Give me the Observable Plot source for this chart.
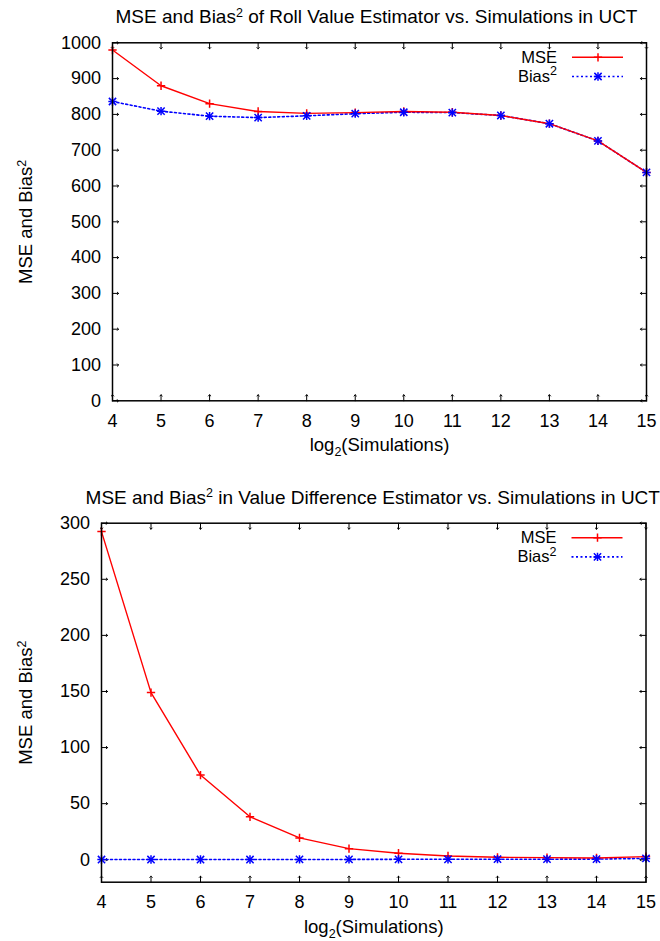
<!DOCTYPE html>
<html><head><meta charset="utf-8">
<script src="https://cdn.jsdelivr.net/npm/d3@7"></script>
<script src="https://cdn.jsdelivr.net/npm/@observablehq/plot@0.6"></script>
<style>
body{margin:0;background:#fff;}
#chart svg{display:block;}
</style></head><body><div id="chart"></div>
<script>
// ---- data ----
const sims = [4, 5, 6, 7, 8, 9, 10, 11, 12, 13, 14, 15];
const rollMSE  = [980, 880, 830, 808, 803, 805, 808, 806, 797, 774, 726, 638];
const rollBias = [836, 809, 795, 791, 796, 802, 806, 805, 797, 774, 726, 638];
const diffMSE  = [292.5, 149, 75.5, 38.3, 19.5, 9.9, 5.8, 3.4, 2.2, 1.9, 1.6, 2.8];
const diffBias = [0.2, 0.2, 0.2, 0.2, 0.3, 0.3, 0.4, 0.4, 0.5, 0.5, 0.6, 1.2];
const xTicks = [4, 5, 6, 7, 8, 9, 10, 11, 12, 13, 14, 15];
const rollYTicks = [0, 100, 200, 300, 400, 500, 600, 700, 800, 900, 1000];
const diffYTicks = [0, 50, 100, 150, 200, 250, 300];
const rollTitle = "MSE and Bias² of Roll Value Estimator vs. Simulations in UCT";
const diffTitle = "MSE and Bias² in Value Difference Estimator vs. Simulations in UCT";
const yLabel = "MSE and Bias²";
const xLabel = "log₂(Simulations)";
const seriesNames = ["MSE", "Bias²"];

const FONT = "'Liberation Sans', Arial, Helvetica, sans-serif";
const RED = "#ff0000", BLUE = "#0000ff";

function richify(svg) {
  svg.querySelectorAll("text").forEach(el => {
    const targets = el.querySelector("tspan") ? [...el.querySelectorAll("tspan")] : [el];
    targets.forEach(t => {
      const s = t.textContent;
      if (!/[²₂]/.test(s)) return;
      while (t.firstChild) t.removeChild(t.firstChild);
      const parts = s.split(/([²₂])/);
      let shift = 0;
      for (const p of parts) {
        if (!p) continue;
        const ts = document.createElementNS("http://www.w3.org/2000/svg", "tspan");
        if (p === "²" || p === "₂") {
          const d = p === "²" ? -6.5 : 5;
          ts.setAttribute("dy", d - shift); shift = d;
          ts.setAttribute("font-size", "12.5");
          ts.textContent = "2";
        } else {
          if (shift) { ts.setAttribute("dy", -shift); shift = 0; }
          ts.textContent = p;
        }
        t.appendChild(ts);
      }
    });
  });
}

function addLegend(svgNode, width, mr, mt) {
  const right = width - mr;
  const svg = d3.select(svgNode);
  const g = svg.append("g").attr("font-family", FONT).attr("font-size", 16.5);
  const entries = [
    {label: seriesNames[0], color: RED, dash: null, sw: 1.4, syms: [[d3.symbolPlus, 24.6]]},
    {label: seriesNames[1], color: BLUE, dash: "2,2.5", sw: 1.6, syms: [[d3.symbolPlus, 24.6], [d3.symbolTimes, 36.3]]}
  ];
  entries.forEach((s, i) => {
    const y = mt + 15 + i * 19.2;
    g.append("text").attr("x", right - 89).attr("y", y).attr("dy", "0.32em")
      .attr("text-anchor", "end").attr("fill", "black").text(s.label);
    const ln = g.append("line").attr("x1", right - 74).attr("x2", right - 23)
      .attr("y1", y).attr("y2", y).attr("stroke", s.color).attr("stroke-width", s.sw);
    if (s.dash) ln.attr("stroke-dasharray", s.dash);
    s.syms.forEach(([type, size]) => {
      g.append("path").attr("transform", `translate(${right - 48},${y})`)
        .attr("d", d3.symbol(type, size)()).attr("fill", "none")
        .attr("stroke", s.color).attr("stroke-width", 1.5);
    });
  });
}

function panel({title, mse, bias, yDomain, yTicks, height, mt, mb, ml, mr, titleDx}) {
  const width = 660;
  const mseData = sims.map((x, i) => ({x, y: mse[i]}));
  const biasData = sims.map((x, i) => ({x, y: bias[i]}));
  const tick = {stroke: "black", strokeWidth: 1, length: 6, anchor: "start"};
  const chart = Plot.plot({
    width, height,
    marginTop: mt, marginBottom: mb, marginLeft: ml, marginRight: mr,
    style: {fontFamily: FONT, fontSize: "18px", color: "#000", background: "#fff"},
    x: {domain: [4, 15]},
    y: {domain: yDomain},
    marks: [
      Plot.axisX({ticks: xTicks, tickSize: 0, tickPadding: 13, fontSize: 18, label: null, tickFormat: "d"}),
      Plot.axisY({ticks: yTicks, tickSize: 0, tickPadding: 11.5, fontSize: 18, label: null, tickFormat: "d"}),
      Plot.vector(xTicks, {x: d => d, frameAnchor: "bottom", rotate: 0, ...tick}),
      Plot.vector(xTicks, {x: d => d, frameAnchor: "top", rotate: 180, ...tick}),
      Plot.vector(yTicks, {y: d => d, frameAnchor: "left", rotate: 90, ...tick}),
      Plot.vector(yTicks, {y: d => d, frameAnchor: "right", rotate: -90, ...tick}),
      Plot.line(biasData, {x: "x", y: "y", stroke: BLUE, strokeWidth: 1.6, strokeDasharray: "2,2.5"}),
      Plot.line(mseData, {x: "x", y: "y", stroke: RED, strokeWidth: 1.4}),
      Plot.dot(mseData, {x: "x", y: "y", symbol: "plus", r: 2.8, stroke: RED, fill: "none", strokeWidth: 1.5}),
      Plot.dot(biasData, {x: "x", y: "y", symbol: "plus", r: 2.8, stroke: BLUE, fill: "none", strokeWidth: 1.5}),
      Plot.dot(biasData, {x: "x", y: "y", symbol: "times", r: 3.4, stroke: BLUE, fill: "none", strokeWidth: 1.5}),
      Plot.frame({stroke: "black", strokeWidth: 1.5}),
      Plot.text([title], {text: d => d, frameAnchor: "top", textAnchor: "middle", lineAnchor: "middle",
        dy: -25.5, dx: titleDx, fontSize: 19, fill: "black"}),
      Plot.text([yLabel], {text: d => d, frameAnchor: "left", textAnchor: "middle", lineAnchor: "middle",
        rotate: -90, dx: 26 - ml, fontSize: 18.5, fill: "black"}),
      Plot.text([xLabel], {text: d => d, frameAnchor: "bottom", textAnchor: "middle", lineAnchor: "middle",
        dy: 44.5, fontSize: 18.5, fill: "black"})
    ]
  });
  addLegend(chart, width, mr, mt);
  richify(chart);
  return chart;
}

const root = document.getElementById("chart");
root.appendChild(panel({
  title: rollTitle, mse: rollMSE, bias: rollBias, yDomain: [0, 1000], yTicks: rollYTicks,
  height: 470, mt: 42.3, mb: 69.7, ml: 112, mr: 14, titleDx: -3
}));
root.appendChild(panel({
  title: diffTitle, mse: diffMSE, bias: diffBias, yDomain: [-20, 300], yTicks: diffYTicks,
  height: 471, mt: 52.7, mb: 59.3, ml: 101, mr: 14.5, titleDx: -1
}));
</script>
</body></html>
